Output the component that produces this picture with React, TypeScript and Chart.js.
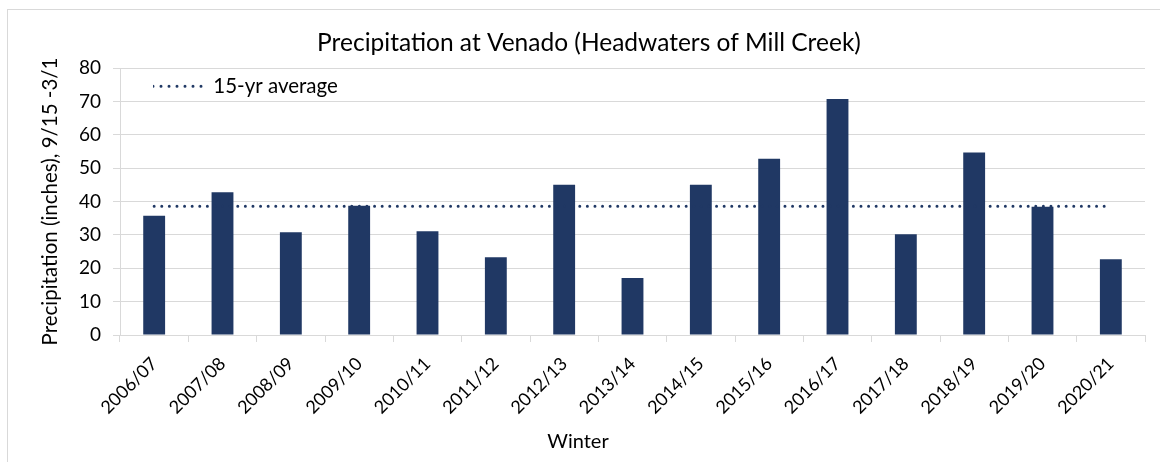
import React, { useEffect, useRef } from "react";
import { Chart, registerables } from "chart.js";

Chart.register(...registerables);

const winters = [
  "2006/07", "2007/08", "2008/09", "2009/10", "2010/11", "2011/12", "2012/13", "2013/14",
  "2014/15", "2015/16", "2016/17", "2017/18", "2018/19", "2019/20", "2020/21",
];
const precipitation = [35.7, 42.8, 30.8, 38.7, 31.1, 23.3, 45.0, 17.1, 45.0, 52.8, 70.7, 30.2, 54.7, 38.4, 22.7];
const averageValue = 38.6;
const averageSeries = winters.map(() => averageValue);
const yTicksMin = 0;
const yTicksMax = 80;
const yTickStep = 10;

const FONT = "Lato, 'Open Sans', sans-serif";
const NAVY = "#203864";
const GRID = "#d9d9d9";

const W = 1160;
const H = 462;
const PLOT_LEFT = 120;
const PLOT_RIGHT = 1145;
const PLOT_TOP = 68;
const PLOT_BOTTOM = 335;

const X_TITLE_FONT = 20;
const X_TITLE_LH = X_TITLE_FONT * 1.2;
const X_TITLE_PAD_BOTTOM = 8;
const X_TITLE_BOX = X_TITLE_LH + X_TITLE_PAD_BOTTOM;

const TITLE_FONT = 24.5;
const TITLE_LH = TITLE_FONT * 1.2;
const TITLE_PAD_TOP = 43 - TITLE_LH / 2;

const placeBoxes = {
  id: "placeBoxes",
  afterLayout(chart: any) {
    const lg = chart.legend;
    if (lg) {
      const L = chart.chartArea.left + 33;
      const T = chart.chartArea.top + 8;
      lg.left = L;
      lg.top = T;
      lg.right = L + lg.width;
      lg.bottom = T + lg.height;
    }
    const tb = chart.titleBlock;
    if (tb) {
      tb.left = 18;
      tb.right = chart.width;
    }
    const sub = (chart.boxes || []).find((b: any) => b !== tb && b.options && b.options.text === "Winter");
    if (sub) {
      sub.left = 18;
      sub.right = 1138;
    }
  },
};

export default function App() {
  const ref = useRef<HTMLCanvasElement>(null);
  useEffect(() => {
    if (!ref.current) return;
    const chart = new Chart(ref.current, {
      type: "bar",
      data: {
        labels: winters,
        datasets: [
          {
            type: "line",
            label: "15-yr average",
            data: averageSeries,
            borderColor: NAVY,
            backgroundColor: NAVY,
            borderWidth: 3,
            borderDash: [0, 7.6],
            borderCapStyle: "round",
            pointRadius: 0,
            fill: false,
            order: 0,
          } as any,
          {
            type: "bar",
            label: "Precipitation",
            data: precipitation,
            backgroundColor: NAVY,
            borderWidth: 0,
            barPercentage: 0.32,
            categoryPercentage: 1,
            order: 1,
          },
        ],
      },
      options: {
        animation: false,
        responsive: false,
        maintainAspectRatio: false,
        layout: { padding: { left: 0, right: W - PLOT_RIGHT, top: 0, bottom: 0 } },
        plugins: {
          title: {
            display: true,
            text: "Precipitation at Venado (Headwaters of Mill Creek)",
            color: "#000",
            font: { family: FONT, size: TITLE_FONT, weight: "normal" },
            padding: { top: TITLE_PAD_TOP, bottom: PLOT_TOP - TITLE_PAD_TOP - TITLE_LH },
          },
          subtitle: {
            display: true,
            position: "bottom",
            text: "Winter",
            color: "#000",
            font: { family: FONT, size: X_TITLE_FONT, weight: "normal" },
            padding: { top: 0, bottom: X_TITLE_PAD_BOTTOM },
          },
          legend: {
            display: true,
            position: "chartArea",
            align: "start",
            labels: {
              generateLabels: (c: any) => {
                const items = Chart.defaults.plugins.legend.labels.generateLabels(c);
                return items
                  .filter((i: any) => i.datasetIndex === 0)
                  .map((i: any) => ({
                    ...i,
                    lineDash: [0, 8],
                    lineCap: "round",
                    lineWidth: 3,
                    strokeStyle: NAVY,
                    fillStyle: NAVY,
                    pointStyle: "line",
                  }));
              },
              usePointStyle: true,
              pointStyle: "line",
              pointStyleWidth: 50,
              padding: 0,
              color: "#000",
              font: { family: FONT, size: 20.5 },
            },
          },
          tooltip: { enabled: false },
        },
        scales: {
          x: {
            grid: {
              display: true,
              offset: true,
              drawOnChartArea: false,
              drawTicks: true,
              tickLength: 7,
              color: GRID,
            },
            border: { color: GRID },
            ticks: {
              color: "#000",
              font: { family: FONT, size: 18 },
              minRotation: 45,
              maxRotation: 45,
              autoSkip: false,
              padding: 11,
            },
            afterFit: (scale: any) => {
              scale.height = H - PLOT_BOTTOM - X_TITLE_BOX;
            },
          },
          y: {
            min: yTicksMin,
            max: yTicksMax,
            ticks: {
              stepSize: yTickStep,
              color: "#000",
              font: { family: FONT, size: 19 },
              padding: 12,
            },
            grid: { color: GRID, tickLength: 7, drawTicks: true },
            border: { color: GRID },
            title: {
              display: true,
              text: "Precipitation (inches), 9/15 -3/1",
              color: "#000",
              font: { family: FONT, size: 20.5 },
              padding: { top: 50 - 12.3, bottom: 0 },
            },
            afterFit: (scale: any) => {
              scale.width = PLOT_LEFT;
            },
          },
        },
      },
      plugins: [placeBoxes],
    } as any);
    return () => chart.destroy();
  }, []);

  return (
    <div style={{ position: "absolute", left: 0, top: 0, width: W, height: H, background: "#fff", overflow: "hidden" }}>
      <canvas ref={ref} width={W} height={H} style={{ position: "absolute", left: 0, top: 0, width: W, height: H }} />
      <div
        style={{
          position: "absolute",
          left: 7,
          top: 9,
          width: W - 7,
          height: H - 9,
          borderTop: `1px solid ${GRID}`,
          borderLeft: `1px solid ${GRID}`,
          pointerEvents: "none",
        }}
      />
    </div>
  );
}
